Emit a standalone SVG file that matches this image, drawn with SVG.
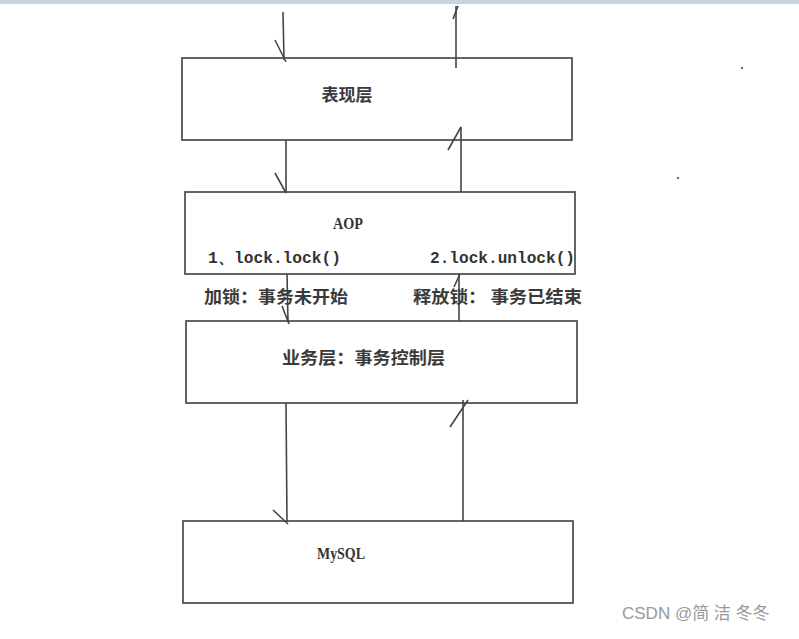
<svg xmlns="http://www.w3.org/2000/svg" width="799" height="639" viewBox="0 0 799 639">
<style>
.box{fill:#fff;stroke:#555;stroke-width:1.8}
.ln{stroke:#444;stroke-width:1.6;fill:none}
.cn{font-family:"Noto Sans CJK SC","Noto Sans",sans-serif;font-size:17px;fill:#3a3a3a;font-weight:bold}
.mono{font-family:"Liberation Mono","DejaVu Sans Mono",monospace;font-size:16px;fill:#333;font-weight:bold}
.ser{font-family:"Liberation Serif",serif;font-size:16px;fill:#333;font-weight:bold}
.wm{font-family:"Liberation Sans","Noto Sans CJK SC",sans-serif;font-size:17px;fill:#999}
</style>
<rect x="0" y="0" width="799" height="639" fill="#fff"/>
<rect x="0" y="0" width="799" height="4" fill="#cbd3de"/>
<g id="node-presentation">
<rect class="box" x="182" y="58" width="390" height="82"/>
<text class="cn" x="347" y="101" text-anchor="middle">表现层</text>
</g>
<g id="node-aop">
<rect class="box" x="185" y="192" width="390" height="82"/>
<text class="ser" x="333" y="229" textLength="30" lengthAdjust="spacingAndGlyphs">AOP</text>
<text class="mono" x="208" y="263" textLength="133" lengthAdjust="spacingAndGlyphs">1、lock.lock()</text>
<text class="mono" x="430" y="263" textLength="145" lengthAdjust="spacingAndGlyphs">2.lock.unlock()</text>
</g>
<g id="label-lock">
<text class="cn" x="204" y="303" textLength="144" lengthAdjust="spacingAndGlyphs">加锁：事务未开始</text>
</g>
<g id="label-unlock">
<text class="cn" x="413" y="303" textLength="169" lengthAdjust="spacingAndGlyphs">释放锁： 事务已结束</text>
</g>
<g id="node-service">
<rect class="box" x="186" y="321" width="391" height="82"/>
<text class="cn" x="282" y="364" textLength="163" lengthAdjust="spacingAndGlyphs">业务层：事务控制层</text>
</g>
<g id="node-mysql">
<rect class="box" x="183" y="521" width="390" height="82"/>
<text class="ser" x="317" y="559" textLength="48" lengthAdjust="spacingAndGlyphs">MySQL</text>
</g>
<g id="connectors">
<line class="ln" x1="283" y1="12" x2="284" y2="60"/>
<line class="ln" x1="275" y1="40" x2="286" y2="62"/>
<line class="ln" x1="456" y1="68" x2="456" y2="6"/>
<line class="ln" x1="453" y1="19" x2="458" y2="6"/>
<line class="ln" x1="286" y1="140" x2="286" y2="193"/>
<line class="ln" x1="275" y1="173" x2="286" y2="193"/>
<line class="ln" x1="461" y1="192" x2="461" y2="127"/>
<line class="ln" x1="448" y1="150" x2="461" y2="127"/>
<line class="ln" x1="287" y1="274" x2="288" y2="322"/>
<line class="ln" x1="282" y1="306" x2="289" y2="324"/>
<line class="ln" x1="459" y1="321" x2="459" y2="274"/>
<line class="ln" x1="454" y1="287" x2="460" y2="274"/>
<line class="ln" x1="286" y1="403" x2="287" y2="522"/>
<line class="ln" x1="273" y1="510" x2="288" y2="524"/>
<line class="ln" x1="463" y1="521" x2="463" y2="400"/>
<line class="ln" x1="450" y1="427" x2="468" y2="400"/>
</g>
<circle cx="742" cy="68" r="1.3" fill="#777"/>
<circle cx="678" cy="178" r="1.3" fill="#777"/>
<text class="wm" x="622" y="619">CSDN @简 洁 冬冬</text>
</svg>
